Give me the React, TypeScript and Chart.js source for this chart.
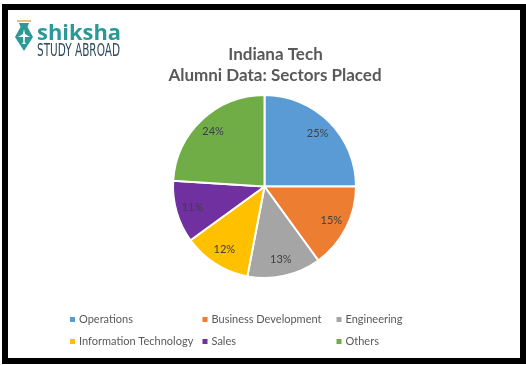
import React, { useEffect, useRef } from "react";
import { Chart, registerables } from "chart.js";

Chart.register(...registerables);

const categories = [
  "Operations",
  "Business Development",
  "Engineering",
  "Information Technology",
  "Sales",
  "Others",
];
const shares = [25, 15, 13, 12, 11, 24];
const colors = ["#5B9BD5", "#ED7D31", "#A5A5A5", "#FFC000", "#7030A0", "#70AD47"];
const titleLines = ["Indiana Tech", "Alumni Data: Sectors Placed"];
const legendOrder = [0, 1, 2, 3, 4, 5];

const decorPlugin = {
  id: "decor",
  beforeDraw(chart: any) {
    const ctx = chart.ctx;
    ctx.save();
    ctx.fillStyle = "#ffffff";
    ctx.fillRect(0, 0, chart.width, chart.height);
    // frame
    ctx.strokeStyle = "#000000";
    ctx.lineWidth = 6;
    ctx.strokeRect(5, 7, 518, 354);
    // logo icon
    ctx.fillStyle = "#E9C27C";
    ctx.fillRect(17, 20, 14, 2);
    ctx.fillStyle = "#2A9A97";
    ctx.beginPath();
    ctx.moveTo(19, 23);
    ctx.lineTo(29, 23);
    ctx.lineTo(27.5, 27);
    ctx.lineTo(33, 37);
    ctx.lineTo(24, 51);
    ctx.lineTo(15, 37);
    ctx.lineTo(20.5, 27);
    ctx.closePath();
    ctx.fill();
    ctx.fillStyle = "#ffffff";
    ctx.beginPath();
    ctx.moveTo(24, 29);
    ctx.lineTo(25, 34);
    ctx.lineTo(30, 37);
    ctx.lineTo(25, 37);
    ctx.lineTo(24.6, 42);
    ctx.lineTo(26, 44);
    ctx.lineTo(22, 44);
    ctx.lineTo(23.4, 42);
    ctx.lineTo(23, 37);
    ctx.lineTo(18, 37);
    ctx.lineTo(23, 34);
    ctx.closePath();
    ctx.fill();
    // logo text
    ctx.textBaseline = "alphabetic";
    ctx.textAlign = "left";
    ctx.fillStyle = "#2A9A97";
    ctx.font = "bold 22px 'Open Sans'";
    ctx.fillText("shiksha", 37, 40, 84);
    ctx.fillStyle = "#2E4A5A";
    ctx.font = "18px 'DejaVu Sans Condensed', 'DejaVu Sans'";
    ctx.fillText("STUDY ABROAD", 37, 55.5, 83);
    // title
    ctx.fillStyle = "#595959";
    ctx.textAlign = "center";
    ctx.font = "bold 17px Lato";
    ctx.fillText(titleLines[0], 275.5, 59.5);
    ctx.fillText(titleLines[1], 275, 81);
    ctx.restore();
  },
  afterDraw(chart: any) {
    const ctx = chart.ctx;
    const meta = chart.getDatasetMeta(0);
    ctx.save();
    // data labels
    ctx.font = "11px Lato";
    ctx.fillStyle = "#404040";
    ctx.textAlign = "center";
    ctx.textBaseline = "middle";
    const total = shares.reduce((a, b) => a + b, 0);
    meta.data.forEach((arc: any, i: number) => {
      const p = arc.getProps(["x", "y", "startAngle", "endAngle", "outerRadius"], true);
      const mid = (p.startAngle + p.endAngle) / 2;
      const r = p.outerRadius * 0.82;
      const pct = Math.round((shares[i] / total) * 100) + "%";
      ctx.fillText(pct, p.x + Math.cos(mid) * r, p.y + Math.sin(mid) * r);
    });
    // legend
    const colX = [70, 202.5, 336.5];
    const rowY = [319.5, 341.5];
    ctx.font = "11px Lato";
    ctx.textAlign = "left";
    ctx.textBaseline = "middle";
    legendOrder.forEach((idx, k) => {
      const x = colX[k % 3];
      const y = rowY[Math.floor(k / 3)];
      ctx.fillStyle = colors[idx];
      ctx.fillRect(x, y - 2.5, 5, 5);
      ctx.fillStyle = "#595959";
      ctx.fillText(categories[idx], x + 9, y);
    });
    ctx.restore();
  },
};

export default function App() {
  const ref = useRef<HTMLCanvasElement | null>(null);
  useEffect(() => {
    document.body.style.margin = "0";
    if (!ref.current) return;
    const chart = new Chart(ref.current, {
      type: "pie",
      data: {
        labels: categories,
        datasets: [
          {
            data: shares,
            backgroundColor: colors,
            borderColor: "#ffffff",
            borderWidth: 2,
          },
        ],
      },
      options: {
        responsive: false,
        animation: false,
        devicePixelRatio: 1,
        layout: {
          padding: { left: 172, right: 169, top: 94, bottom: 86 },
        },
        plugins: {
          legend: { display: false },
          title: { display: false },
          tooltip: { enabled: false },
        },
      },
      plugins: [decorPlugin],
    });
    return () => chart.destroy();
  }, []);
  return (
    <div style={{ position: "relative", width: 526, height: 365 }}>
      <canvas ref={ref} width={526} height={365} />
    </div>
  );
}
